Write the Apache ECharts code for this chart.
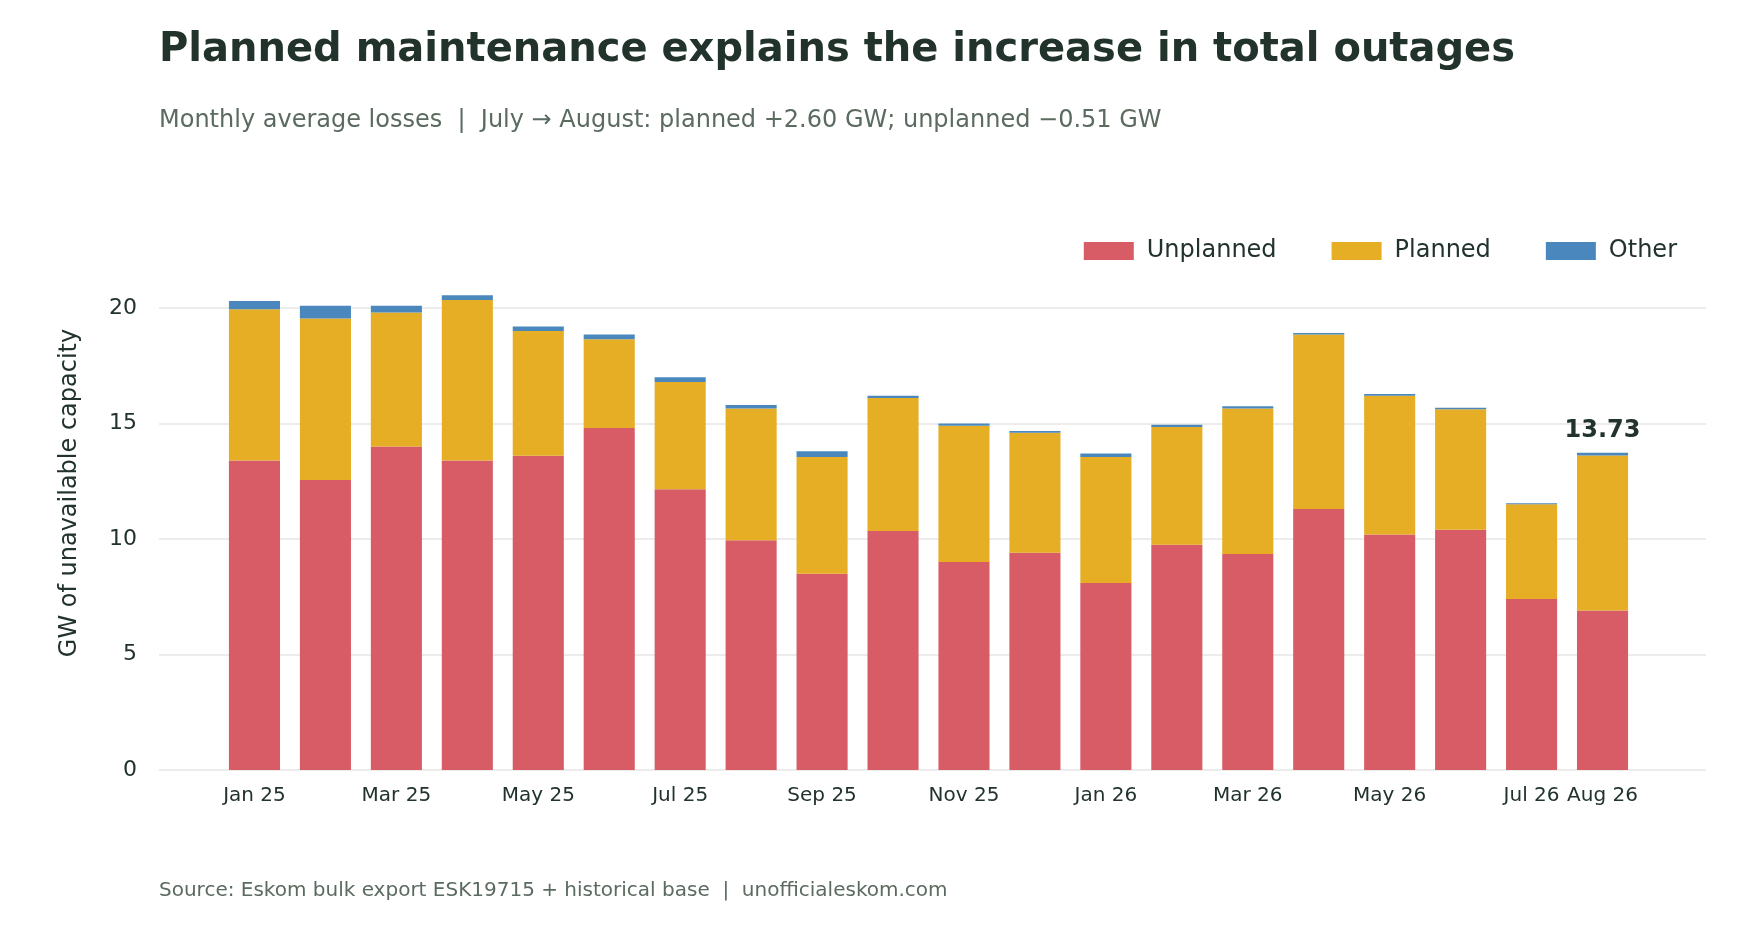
<!DOCTYPE html>
<html><head><meta charset="utf-8">
<script src="https://cdn.jsdelivr.net/npm/echarts@6/dist/echarts.min.js"></script>
<style>html,body{margin:0;padding:0;background:#fff}#c{width:1760px;height:928px}</style>
</head><body><div id="c"></div>
<script>
const categories = ['Jan 25','Feb 25','Mar 25','Apr 25','May 25','Jun 25','Jul 25','Aug 25','Sep 25','Oct 25','Nov 25','Dec 25','Jan 26','Feb 26','Mar 26','Apr 26','May 26','Jun 26','Jul 26','Aug 26'];
const unplanned = [13.4,12.55,14.0,13.4,13.6,14.8,12.15,9.95,8.5,10.35,9.0,9.4,8.1,9.75,9.35,11.3,10.2,10.4,7.4,6.91];
const planned   = [6.55,7.0,5.8,6.95,5.4,3.85,4.65,5.7,5.05,5.75,5.9,5.2,5.45,5.1,6.3,7.55,6.0,5.22,4.1,6.7];
const other     = [0.35,0.55,0.3,0.2,0.2,0.2,0.2,0.15,0.25,0.1,0.1,0.08,0.15,0.1,0.1,0.07,0.08,0.06,0.05,0.12];
const yTicks = [0,5,10,15,20];
const F = 'DejaVu Sans';
const last = categories.length - 1;
const total = unplanned[last] + planned[last] + other[last];
const chart = echarts.init(document.getElementById('c'));
chart.setOption({
  animation:false,
  textStyle:{fontFamily:F},
  title:[
    {text:'Planned maintenance explains the increase in total outages',left:154,top:26,textStyle:{fontFamily:F,fontSize:40,fontWeight:'bold',color:'#22332b'}},
    {text:'Monthly average losses  |  July \u2192 August: planned +2.60 GW; unplanned \u22120.51 GW',left:154,top:104,textStyle:{fontFamily:F,fontSize:24,fontWeight:'normal',color:'#5b6b60'}},
    {text:'Source: Eskom bulk export ESK19715 + historical base  |  unofficialeskom.com',left:154,top:876,textStyle:{fontFamily:F,fontSize:20,fontWeight:'normal',color:'#5b6b60'}}
  ],
  graphic:[{type:'text',x:70,y:493,rotation:Math.PI/2,style:{text:'GW of unavailable capacity',font:'24px "DejaVu Sans"',fill:'#22332b',textAlign:'center',textVerticalAlign:'middle'}}],
  legend:{right:78,top:234,itemWidth:50,itemHeight:18,itemGap:55,icon:'rect',textStyle:{fontFamily:F,fontSize:24,color:'#22332b',padding:[0,0,0,8]},data:['Unplanned','Planned','Other']},
  grid:[
    {left:159,right:54,top:308,bottom:158},
    {left:219,right:122,top:308,bottom:158}
  ],
  xAxis:[
    {gridIndex:0,type:'category',data:categories,show:false},
    {gridIndex:1,type:'category',data:categories,axisTick:{show:false},axisLine:{show:false},
    axisLabel:{fontSize:20,color:'#22332b',margin:16,interval:0,formatter:(v,i)=>(i%2===0||i===last)?v:''}}
  ],
  yAxis:[
    {gridIndex:0,type:'value',min:0,max:20,interval:5,
    axisLabel:{fontSize:22,color:'#22332b',margin:22,formatter:v=>yTicks.includes(v)?String(v):''},
    splitLine:{lineStyle:{color:'#e6e6e6',width:1.5}},axisLine:{show:false},axisTick:{show:false}},
    {gridIndex:1,type:'value',min:0,max:20,interval:5,show:false,splitLine:{show:false}}
  ],
  series:[
    {name:'Unplanned',type:'bar',stack:'t',clip:false,xAxisIndex:1,yAxisIndex:1,data:unplanned,barCategoryGap:'28%',itemStyle:{color:'#d75c66'}},
    {name:'Planned',type:'bar',stack:'t',clip:false,xAxisIndex:1,yAxisIndex:1,data:planned,itemStyle:{color:'#e5ae24'}},
    {name:'Other',type:'bar',stack:'t',clip:false,xAxisIndex:1,yAxisIndex:1,data:other,itemStyle:{color:'#4a87bd'},
      label:{show:true,position:'top',distance:10,fontSize:24,fontWeight:'bold',color:'#22332b',
        formatter:p=>p.dataIndex===last?total.toFixed(2):''}}
  ]
});
</script></body></html>
